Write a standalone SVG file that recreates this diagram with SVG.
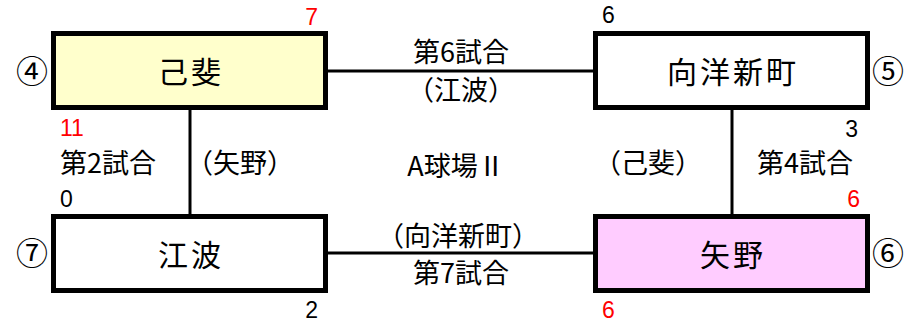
<svg xmlns="http://www.w3.org/2000/svg" width="909" height="326" viewBox="0 0 909 326">
<style>
text{font-family:"Noto Sans CJK JP","Noto Sans",sans-serif;fill:#000}
.box{stroke:#000;stroke-width:5}
.name{font-size:30px;text-anchor:middle;letter-spacing:3px}
.lbl{font-size:27px}
text.num{font-family:"Liberation Sans",Arial,sans-serif;font-size:23px}
.red{fill:#ff0000}
.circ{font-size:32px;text-anchor:middle}
.mid{text-anchor:middle}
.end{text-anchor:end}
.conn line{stroke:#000;stroke-width:3}
</style>
<rect width="909" height="326" fill="#fff"/>
<g class="conn">
<line x1="328" y1="71" x2="593" y2="71"/>
<line x1="328" y1="253" x2="593" y2="253"/>
<line x1="190" y1="109" x2="190" y2="214"/>
<line x1="732" y1="110" x2="732" y2="214"/>
</g>
<g id="node-koi">
<rect class="box" x="53.5" y="33.5" width="272" height="74" fill="#ffffcc"/>
<text class="name" x="191" y="83">己斐</text>
<text class="circ" x="32" y="83">④</text>
<text class="num red end" x="318" y="25">7</text>
<text class="num red" x="60" y="136">11</text>
</g>
<g id="node-mukainada">
<rect class="box" x="595.5" y="33.5" width="272" height="74" fill="#ffffff"/>
<text class="name" x="733" y="83">向洋新町</text>
<text class="circ" x="888" y="83">⑤</text>
<text class="num" x="602" y="23">6</text>
<text class="num end" x="858" y="137">3</text>
</g>
<g id="node-eba">
<rect class="box" x="53.5" y="216.5" width="272" height="74" fill="#ffffff"/>
<text class="name" x="191" y="266">江波</text>
<text class="circ" x="32" y="265">⑦</text>
<text class="num" x="60" y="207">0</text>
<text class="num end" x="318" y="318">2</text>
</g>
<g id="node-yano">
<rect class="box" x="595.5" y="216.5" width="272" height="74" fill="#ffccff"/>
<text class="name" x="733" y="266">矢野</text>
<text class="circ" x="888" y="265">⑥</text>
<text class="num red end" x="860" y="207">6</text>
<text class="num red" x="602" y="318">6</text>
</g>
<g id="labels">
<text class="lbl mid" x="461" y="62">第6試合</text>
<text class="lbl mid" x="461" y="100">（江波）</text>
<text class="lbl mid" x="456" y="176">A球場Ⅱ</text>
<text class="lbl mid" x="458" y="246">（向洋新町）</text>
<text class="lbl mid" x="461" y="283">第7試合</text>
<text class="lbl" x="60" y="173">第2試合</text>
<text class="lbl mid" x="240" y="173">（矢野）</text>
<text class="lbl mid" x="648" y="173">（己斐）</text>
<text class="lbl" x="757" y="173">第4試合</text>
</g>
</svg>
